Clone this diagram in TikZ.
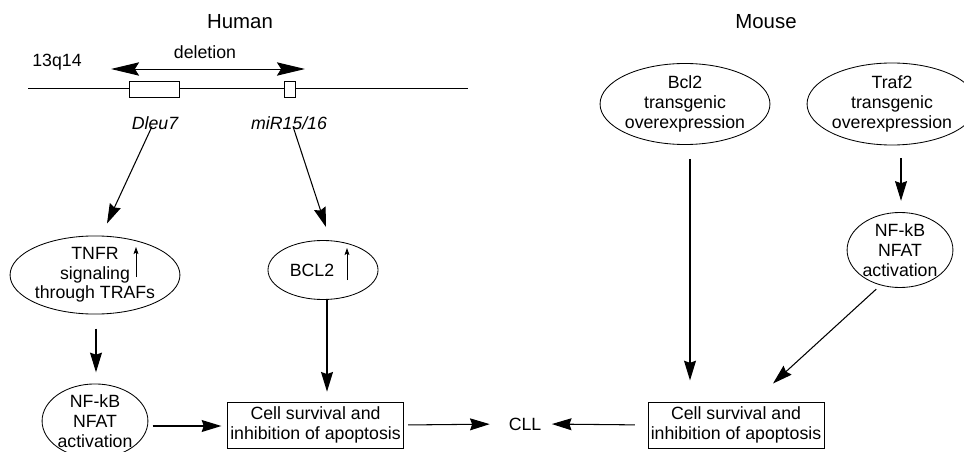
\documentclass[tikz,border=0pt]{standalone}
\usepackage{fontspec}
\setmainfont{Liberation Sans}
\usepackage{tikz}
\usetikzlibrary{arrows.meta,positioning,shapes.geometric,calc}

\begin{document}
\begin{tikzpicture}[
  x=0.025cm, y=-0.025cm,
  font=\fontsize{12.6}{14}\selectfont,
  oval/.style={ellipse, draw=black, line width=0.6pt, align=center, inner sep=0pt},
  cellbox/.style={rectangle, draw=black, line width=0.7pt, align=center,
    minimum width=4.37cm, minimum height=1.15cm, inner sep=2pt},
  genebox/.style={rectangle, draw=black, line width=0.7pt, fill=white, inner sep=0pt},
  title/.style={font=\fontsize{14.5}{16}\selectfont},
  arrow/.style={-{Stealth[length=14pt,width=8.5pt,inset=1.5pt]}, line width=0.75pt},
  uparrow/.style={-{Stealth[length=5pt,width=3.5pt,inset=1pt]}, line width=0.7pt},
  delarrow/.style={{Stealth[length=20pt,width=9.5pt,inset=3pt]}-{Stealth[length=20pt,width=9.5pt,inset=3pt]},
    line width=0.7pt}
]
\useasboundingbox (0,0) rectangle (964,452);

% titles
\node[title] (human) at (240,22) {Human};
\node[title] (mouse) at (766,22) {Mouse};

% chromosome 13q14
\node (locus) at (57,62) {13q14};
\node (deletion) at (205,52) {deletion};
\coordinate (chrL) at (28,88);
\coordinate (chrR) at (468,88);
\coordinate (delL) at (111,69);
\coordinate (delR) at (305,69);
\draw[line width=0.7pt] (chrL) -- (chrR);
\draw[delarrow] (delL) -- (delR);
\node[genebox, minimum width=1.25cm, minimum height=0.4cm] (dleubox) at (154,89) {};
\node[genebox, minimum width=0.275cm, minimum height=0.4cm] (mirbox) at (289.5,89) {};
\node[font=\fontsize{12.6}{14}\selectfont\itshape] (dleu) at (155,123) {Dleu7};
\node[font=\fontsize{12.6}{14}\selectfont\itshape] (mir) at (289,123) {miR15/16};

% human pathway
\node[oval, minimum width=4.175cm, minimum height=1.775cm] (tnfr) at (95,275)
  {TNFR\\signaling\\through TRAFs};
\node[oval, minimum width=2.75cm, minimum height=1.475cm] (bcl) at (323,270)
  {BCL2\hspace*{0.55cm}};
\node[oval, minimum width=2.4cm, minimum height=1.65cm] (nfkb) at (95,421)
  {NF-kB\\NFAT\\activation};
\node[cellbox] (cellL) at (315.5,425) {Cell survival and\\inhibition of apoptosis};
\node (cll) at (525,424) {CLL};

\draw[uparrow] ($(tnfr.center)+(41,2)$) -- ($(tnfr.center)+(41,-28)$);
\draw[uparrow] ($(bcl.center)+(24,10)$) -- ($(bcl.center)+(24,-22)$);

% mouse models
\node[oval, minimum width=3.65cm, minimum height=2.025cm] (bclm) at (685,104)
  {Bcl2\\transgenic\\overexpression};
\node[oval, minimum width=3.6cm, minimum height=2.05cm] (traf) at (892,104)
  {Traf2\\transgenic\\overexpression};
\node[oval, minimum width=2.35cm, minimum height=1.875cm] (nfkbR) at (900,250)
  {NF-kB\\NFAT\\activation};
\node[cellbox, minimum width=4.35cm] (cellR) at (736,425) {Cell survival and\\inhibition of apoptosis};

% connectors
\draw[arrow] ($(dleu.south)+(-3,-8)$) -- ($(tnfr.north)+(12,-12)$);
\draw[arrow] ($(mir.south)+(4,-8)$) -- ($(bcl.north)+(3,-13)$);
\draw[arrow, shorten <=10pt, shorten >=8pt] ([xshift=0.025cm]tnfr.south) -- ([xshift=0.025cm]nfkb.north);
\draw[arrow, shorten >=7pt] ([xshift=0.1cm]bcl.south) -- ([xshift=0.1cm]bcl.south |- cellL.north);
\draw[arrow, shorten <=3pt, shorten >=4pt] ([yshift=-0.025cm]nfkb.east |- cellL.west) -- ([yshift=-0.025cm]cellL.west);
\draw[arrow, shorten <=3pt, shorten >=10pt] (cellL.east) -- (cll.west);
\draw[arrow, shorten <=9pt, shorten >=4pt] (cellR.west) -- (cll.east);
\draw[arrow, shorten <=10pt, shorten >=15pt] ([xshift=0.125cm]bclm.south) -- ([xshift=0.125cm]bclm.south |- cellR.north);
\draw[arrow, shorten <=9pt, shorten >=8pt] ([xshift=0.225cm]traf.south) -- ([xshift=0.225cm]traf.south |- nfkbR.north);
\draw[arrow, shorten <=4pt] (nfkbR.241) -- ($(cellR.north)+(37,-18)$);

\end{tikzpicture}
\end{document}
